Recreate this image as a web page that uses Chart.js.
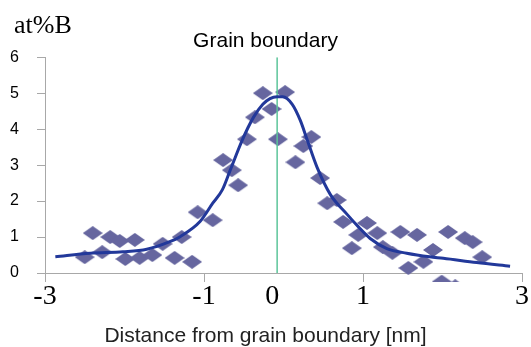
<!DOCTYPE html>
<html>
<head>
<meta charset="utf-8">
<script src="https://cdn.jsdelivr.net/npm/chart.js@4.4.1/dist/chart.umd.min.js"></script>
<style>
  html, body { margin: 0; padding: 0; background: #fff; }
  #wrap { width: 531px; height: 347px; }
</style>
</head>
<body>
<div id="wrap"><canvas id="chart" width="531" height="347"></canvas></div>
<script>
// measured B concentration (diamonds)
const pointX = [-2.50, -2.40, -2.28, -2.18, -2.06, -1.99, -1.87, -1.81, -1.65, -1.52,
                -1.37, -1.28, -1.15, -1.08, -0.89, -0.76, -0.65, -0.57, -0.46, -0.36,
                -0.26, -0.15, -0.07, 0.02, 0.15, 0.25, 0.35, 0.46, 0.55, 0.67,
                0.75, 0.86, 0.94, 1.05, 1.18, 1.25, 1.37, 1.47, 1.57, 1.68,
                1.76, 1.88, 1.99, 2.07, 2.16, 2.28, 2.38, 2.50]
const pointY = [0.44, 1.11, 0.58, 1.00, 0.89, 0.39, 0.92, 0.42, 0.50, 0.81,
                0.42, 1.00, 0.31, 1.69, 1.47, 3.14, 2.86, 2.44, 3.72, 4.33,
                5.00, 4.56, 3.72, 5.03, 3.08, 3.53, 3.78, 2.64, 1.94, 2.03,
                1.42, 0.69, 1.06, 1.39, 1.11, 0.72, 0.56, 1.14, 0.14, 1.06,
                0.31, 0.64, -0.24, 1.14, -0.37, 0.97, 0.86, 0.44]

// fitted profile (blue line)
const curveX = [-2.87, -2.43, -2.02, -1.72, -1.43, -1.30, -1.05, -0.89, -0.77, -0.67,
                -0.52, -0.38, -0.26, -0.17, -0.08, -0.01, 0.11, 0.21, 0.30, 0.42,
                0.59, 0.80, 0.94, 1.09, 1.30, 1.55, 1.84, 2.01, 2.43, 2.85]
const curveY = [0.45, 0.55, 0.59, 0.66, 0.87, 1.01, 1.43, 1.94, 2.31, 2.86,
                3.69, 4.32, 4.69, 4.85, 4.90, 4.90, 4.69, 4.25, 3.69, 2.95,
                2.18, 1.63, 1.29, 0.96, 0.68, 0.55, 0.45, 0.41, 0.29, 0.19]

const boundaryX = -0.08
const yTicks = [0, 1, 2, 3, 4, 5, 6]
const xTickValues = [-3, -1, -0.14, 1, 3]
const xTickLabels = ['-3', '-1', '0', '1', '3']

const axisGray = '#a8a8a8'

function makeDiamond(w, h, color){
    const c = document.createElement('canvas')
    c.width = w
    c.height = h
    const g = c.getContext('2d')
    g.fillStyle = color
    g.beginPath()
    g.moveTo(w / 2, 0)
    g.lineTo(w, h / 2)
    g.lineTo(w / 2, h)
    g.lineTo(0, h / 2)
    g.closePath()
    g.fill()
    return c
}
const diamond = makeDiamond(20, 14, '#66669f')

const unitLabel = {
    id: 'unitLabel',
    afterDraw(chart){
        const ctx = chart.ctx
        ctx.save()
        ctx.fillStyle = '#000'
        ctx.font = '26px "Liberation Serif"'
        ctx.textBaseline = 'alphabetic'
        ctx.fillText('at%B', 14, 33)
        ctx.restore()
    }
}

new Chart(document.getElementById('chart'), {
    type: 'scatter',
    data: {
        datasets: [
            {
                label: 'fit',
                data: curveX.map((x, i) => ({x: x, y: curveY[i]})),
                showLine: true,
                borderColor: '#22389a',
                borderWidth: 3,
                pointRadius: 0,
                cubicInterpolationMode: 'monotone',
                order: 0,
            },
            {
                label: 'boundary',
                data: [{x: boundaryX, y: 0}, {x: boundaryX, y: 6}],
                showLine: true,
                borderColor: '#5cc59a',
                borderWidth: 1.5,
                pointRadius: 0,
                order: 1,
            },
            {
                label: 'B',
                data: pointX.map((x, i) => ({x: x, y: pointY[i]})),
                pointStyle: diamond,
                pointRadius: 14,
                clip: {left: 12, top: 12, right: 12, bottom: 9},
                order: 2,
            }
        ]
    },
    options: {
        responsive: false,
        animation: false,
        events: [],
        layout: { autoPadding: false, padding: 0 },
        plugins: {
            legend: { display: false },
            tooltip: { enabled: false },
            title: {
                display: true,
                text: 'Grain boundary',
                color: '#000',
                font: { family: '"Liberation Sans"', size: 21, weight: 'normal', lineHeight: 1.2 },
                padding: { top: 29, bottom: 3 },
            },
            // x axis caption, centred on the whole figure like the original
            subtitle: {
                display: true,
                position: 'bottom',
                text: 'Distance from grain boundary [nm]',
                color: '#222',
                font: { family: '"Liberation Sans"', size: 21, lineHeight: 1 },
                padding: { top: 6, bottom: 0 },
            }
        },
        scales: {
            x: {
                type: 'linear',
                min: -3,
                max: 3,
                afterFit: (scale) => {
                    scale.height = 47
                    scale.paddingLeft = 0
                    scale.paddingRight = 9
                },
                afterBuildTicks: (scale) => { scale.ticks = xTickValues.map(v => ({value: v})) },
                grid: {
                    drawOnChartArea: false,
                    tickLength: 9,
                    tickColor: (ctx) => ctx.index === 2 ? 'rgba(0,0,0,0)' : axisGray,
                },
                border: { color: axisGray, width: 1 },
                ticks: {
                    color: '#000',
                    padding: 1,
                    maxRotation: 0,
                    autoSkip: false,
                    font: { family: '"Liberation Serif"', size: 28, lineHeight: 1 },
                    callback: (v, i) => xTickLabels[i],
                }
            },
            y: {
                min: 0,
                max: 6,
                afterFit: (scale) => { scale.width = 45 },
                afterBuildTicks: (scale) => { scale.ticks = yTicks.map(v => ({value: v})) },
                grid: {
                    drawOnChartArea: false,
                    tickLength: 8,
                    tickColor: axisGray,
                },
                border: { color: axisGray, width: 1 },
                ticks: {
                    color: '#000',
                    padding: 18,
                    font: { family: '"Liberation Sans"', size: 16 },
                }
            }
        }
    },
    plugins: [unitLabel]
})
</script>
</body>
</html>
